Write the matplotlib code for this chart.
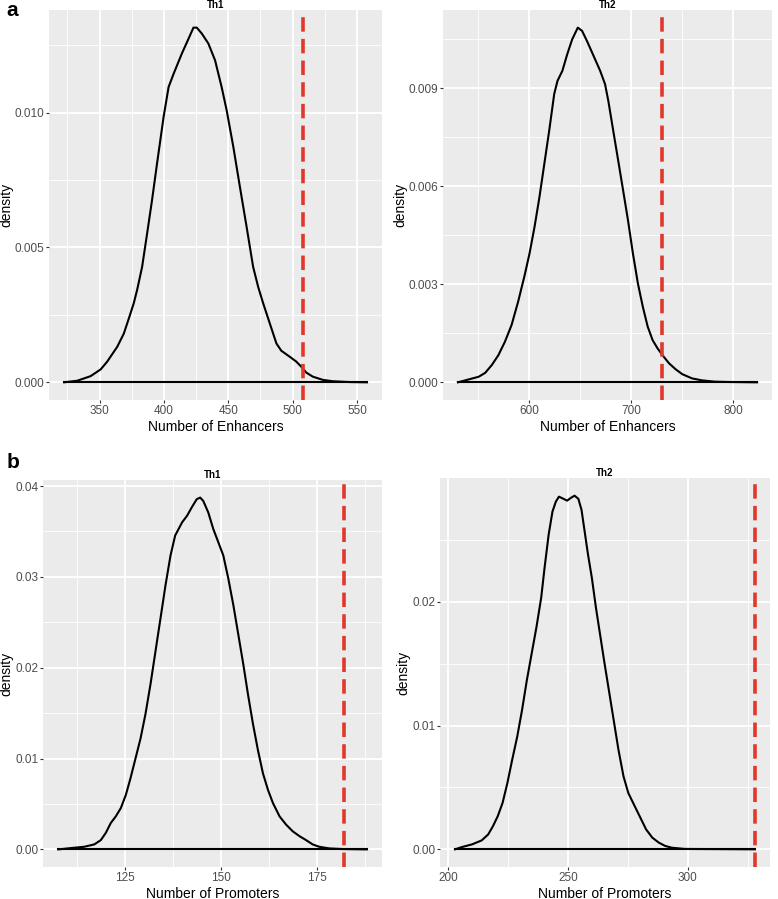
import matplotlib
matplotlib.use("Agg")
import matplotlib.pyplot as plt
import numpy as np

plt.rcParams['font.family'] = ['Liberation Sans', 'DejaVu Sans']

# density curves (x, density)
enh_th1_x = [322.4, 332.7, 343.0, 350.8, 355.9, 363.7, 368.8, 372.7, 376.5, 379.1, 383.0, 386.9,
             390.7, 394.6, 399.7, 403.6, 407.5, 413.9, 419.1, 422.9, 425.5, 429.4, 434.5, 439.7,
             444.8, 448.7, 453.9, 459.0, 464.2, 469.3, 473.2, 477.1, 482.2, 487.4, 491.2, 497.7,
             502.8, 506.7, 510.6, 515.7, 523.5, 531.2, 544.1, 557.7]
enh_th1_y = [0.0, 0.00006, 0.00023, 0.00048, 0.00077, 0.00132, 0.00181, 0.00237, 0.00293, 0.00342,
             0.00428, 0.00552, 0.00675, 0.00811, 0.00984, 0.01095, 0.01144, 0.01219, 0.01274,
             0.01315, 0.01315, 0.01293, 0.01256, 0.01194, 0.01095, 0.01009, 0.00873, 0.00725,
             0.00577, 0.00428, 0.00354, 0.00293, 0.00219, 0.00144, 0.00117, 0.00095, 0.00077,
             0.00058, 0.00036, 0.00021, 0.00009, 0.00004, 0.00001, 0.0]

enh_th2_x = [530.5, 541.2, 550.8, 557.2, 563.7, 570.1, 576.5, 583.0, 589.4, 595.8, 600.6, 605.5,
             610.3, 615.1, 619.9, 624.8, 628.0, 632.8, 637.6, 642.4, 647.9, 652.1, 656.9, 663.3,
             669.8, 674.6, 677.8, 682.6, 687.5, 692.3, 697.1, 701.9, 706.8, 711.6, 716.4, 721.2,
             726.0, 730.9, 737.3, 743.7, 750.2, 759.8, 769.5, 782.3, 795.2, 823.5]
enh_th2_y = [0.0, 0.00009, 0.00017, 0.00029, 0.00053, 0.00083, 0.00124, 0.00175, 0.00246, 0.00327,
             0.00394, 0.00475, 0.00566, 0.00668, 0.0077, 0.00882, 0.00922, 0.00953, 0.01004,
             0.01049, 0.01085, 0.01075, 0.01044, 0.00999, 0.00953, 0.00912, 0.00861, 0.0077,
             0.00678, 0.00587, 0.00495, 0.00394, 0.00302, 0.00231, 0.0017, 0.00129, 0.00104,
             0.00083, 0.00058, 0.0004, 0.00025, 0.00012, 0.00006, 0.00002, 0.00001, 0.0]

pro_th1_x = [107.8, 111.1, 114.5, 117.1, 118.8, 120.1, 121.4, 122.7, 124.0, 125.3, 126.5, 127.8,
             129.1, 130.4, 131.7, 133.0, 134.3, 135.6, 136.9, 138.1, 139.9, 141.2, 142.4, 143.7,
             144.6, 145.4, 146.7, 148.0, 149.3, 150.6, 151.9, 153.2, 154.5, 155.8, 157.0, 158.3,
             159.6, 160.9, 162.2, 163.5, 165.2, 166.9, 168.6, 170.4, 172.1, 173.8, 175.5, 178.1,
             181.5, 187.8]
pro_th1_y = [0.0, 0.00015, 0.00029, 0.00055, 0.00102, 0.00182, 0.00291, 0.00364, 0.00455, 0.006,
             0.00782, 0.01, 0.01218, 0.01491, 0.01818, 0.02182, 0.02545, 0.02909, 0.03236, 0.03455,
             0.036, 0.03673, 0.03764, 0.03855, 0.03873, 0.03836, 0.03709, 0.03527, 0.03382,
             0.03236, 0.02982, 0.02691, 0.02364, 0.02036, 0.01709, 0.01382, 0.01091, 0.00836,
             0.00655, 0.00509, 0.00364, 0.00273, 0.002, 0.00145, 0.00102, 0.00055, 0.00029,
             0.00011, 0.00004, 0.0]

pro_th2_x = [203.0, 206.0, 210.1, 214.1, 216.8, 218.8, 220.8, 222.8, 224.8, 226.8, 228.9, 230.9,
             232.9, 234.9, 236.9, 238.9, 240.3, 242.0, 243.6, 245.0, 246.3, 247.7, 249.7, 251.4,
             252.8, 254.4, 255.7, 257.0, 258.4, 260.0, 261.7, 263.4, 265.1, 267.1, 269.1, 271.1,
             273.2, 275.2, 277.2, 279.9, 282.6, 285.2, 287.9, 290.6, 293.3, 298.7, 327.9]
pro_th2_y = [0.0, 0.00019, 0.0004, 0.00072, 0.0012, 0.00187, 0.00268, 0.00375, 0.00535, 0.00723,
             0.0091, 0.01124, 0.01365, 0.0158, 0.01794, 0.02035, 0.02276, 0.02544, 0.02731,
             0.02811, 0.02851, 0.02838, 0.02819, 0.02843, 0.02859, 0.02833, 0.02744, 0.0257,
             0.02383, 0.02195, 0.01954, 0.0174, 0.01526, 0.01285, 0.01044, 0.00803, 0.00589,
             0.00455, 0.00375, 0.00268, 0.00161, 0.00094, 0.00054, 0.00027, 0.00013, 0.00003, 0.0]

# observed values (red dashed lines)
observed = [508, 730, 182, 328]

titles = ["Th1", "Th2", "Th1", "Th2"]
xlabels = ["Number of Enhancers", "Number of Enhancers", "Number of Promoters", "Number of Promoters"]

xticks = [[350, 400, 450, 500, 550], [600, 700, 800], [125, 150, 175], [200, 250, 300]]
yticks = [[0.0, 0.005, 0.010], [0.0, 0.003, 0.006, 0.009], [0.0, 0.01, 0.02, 0.03, 0.04], [0.0, 0.01, 0.02]]
ytick_labels = [["0.000", "0.005", "0.010"], ["0.000", "0.003", "0.006", "0.009"],
                ["0.00", "0.01", "0.02", "0.03", "0.04"], ["0.00", "0.01", "0.02"]]

curves = [(enh_th1_x, enh_th1_y), (enh_th2_x, enh_th2_y), (pro_th1_x, pro_th1_y), (pro_th2_x, pro_th2_y)]

# axes rectangles (figure fractions)
rects = [[0.063, 0.555, 0.428, 0.434],
         [0.5694, 0.555, 0.4229, 0.434],
         [0.0553, 0.0356, 0.4357, 0.4305],
         [0.5656, 0.0356, 0.4242, 0.4327]]

fig = plt.figure(figsize=(7.78, 8.99), dpi=100)

for i in range(4):
    ax = fig.add_axes(rects[i])
    ax.set_facecolor('#EBEBEB')
    for s in ax.spines.values():
        s.set_visible(False)

    x, y = curves[i]
    # outline like ggplot's geom_density: curve plus baseline
    ax.plot(x, y, color='black', lw=1.5, zorder=3, solid_joinstyle='round')
    ax.plot([x[0], x[-1]], [0, 0], color='black', lw=1.5, zorder=3)
    ax.axvline(observed[i], color='#E2372B', lw=2.6, dashes=(4, 2), zorder=4)

    xt = xticks[i]
    yt = yticks[i]
    ax.set_xticks(xt)
    ax.set_yticks(yt)
    ax.set_yticklabels(ytick_labels[i])
    # minor grid at midpoints
    dx = xt[1] - xt[0]
    dy = yt[1] - yt[0]
    ax.set_xticks(np.arange(xt[0] - dx / 2, xt[-1] + dx, dx), minor=True)
    ax.set_yticks(np.arange(yt[0] - dy / 2, yt[-1] + dy, dy), minor=True)
    ax.grid(which='major', color='white', lw=1.3)
    ax.grid(which='minor', color='white', lw=0.6)
    ax.set_axisbelow(True)
    ax.margins(x=0.05, y=0.05)

    ax.tick_params(which='major', length=2.5, width=0.8, color='#333333',
                   labelsize=8.5, labelcolor='#4D4D4D', pad=1)
    ax.tick_params(which='minor', length=0)

    ax.set_xlabel(xlabels[i], fontsize=10, labelpad=2)
    ax.set_ylabel("density", fontsize=10, labelpad=1)
    ax.set_title(titles[i], fontsize=7, fontweight='bold', pad=1)

fig.text(0.008, 0.988, "a", fontsize=15, fontweight='bold', va='center')
fig.text(0.008, 0.485, "b", fontsize=15, fontweight='bold', va='center')

fig.savefig("out.png", dpi=100)
